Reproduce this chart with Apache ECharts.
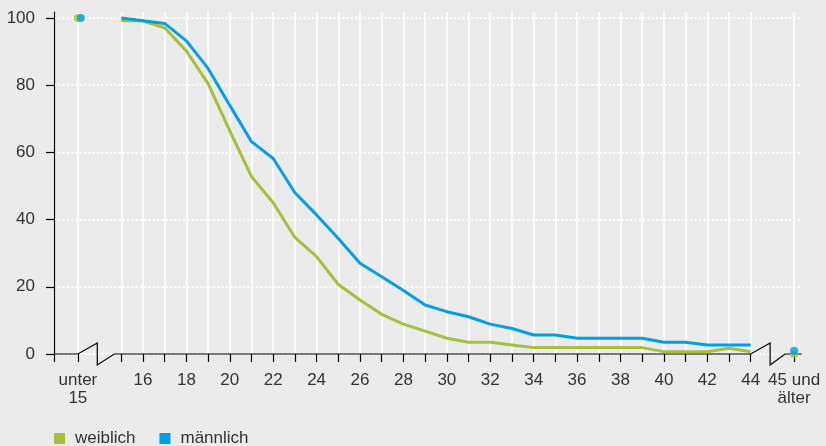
<!DOCTYPE html>
<html>
<head>
<meta charset="utf-8">
<script src="https://cdn.jsdelivr.net/npm/echarts@6/dist/echarts.min.js"></script>
<style>
html,body{margin:0;padding:0;background:#ebebeb;}
#c{width:826px;height:446px;}
</style>
</head>
<body>
<div id="c"></div>
<script>
// ---- data ----
const ages = [15,16,17,18,19,20,21,22,23,24,25,26,27,28,29,30,31,32,33,34,35,36,37,38,39,40,41,42,43,44];
const weiblich = [99.2,99.1,97.1,90.2,80.5,66.4,52.8,45.0,34.7,29.0,20.7,16.1,11.8,8.9,6.8,4.7,3.5,3.5,2.7,1.9,1.9,1.9,1.9,1.9,1.9,0.7,0.7,0.7,1.7,0.7];
const maennlich = [100,99.2,98.4,93.2,85.0,74.0,63.2,58.2,48.0,41.4,34.4,27.0,23.0,18.9,14.6,12.6,11.1,8.9,7.6,5.65,5.65,4.66,4.66,4.66,4.66,3.47,3.47,2.68,2.68,2.68];
const endPositions = [13, 46];
const endLabels = ['unter\n15', '45 und\nälter'];
const weiblichEnds = [100, 0];
const maennlichEnds = [100, 1];
const seriesNames = ['weiblich', 'männlich'];
const yTickValues = [0, 20, 40, 60, 80, 100];
const xLabelValues = [16,18,20,22,24,26,28,30,32,34,36,38,40,42,44];

// ---- chart ----
const X_MIN = 11.9, X_MAX = 46.35, Y_MAX = 101.8;
const GREEN = '#a5c03a', BLUE = '#009fe3';
const FONT = '"Liberation Sans", Arial, sans-serif';
const TXT = '#333333';

const chart = echarts.init(document.getElementById('c'), null, {renderer: 'canvas'});

const xTickValues = [X_MIN, endPositions[0]].concat(ages, [endPositions[1]]);
const xLabelAll = [endPositions[0]].concat(xLabelValues, [endPositions[1]]);

function pairs(xs, ys) { return xs.map((x, i) => [x, ys[i]]); }

const option = {
  backgroundColor: '#ebebeb',
  animation: false,
  grid: {left: 54, right: 24.3, top: 12, bottom: 92, containLabel: false},
  legend: {
    data: seriesNames,
    icon: 'rect',
    itemWidth: 11,
    itemHeight: 11,
    itemGap: 24,
    left: 54,
    top: 430,
    padding: 0,
    textStyle: {fontFamily: FONT, fontSize: 17, color: TXT, padding: [0,0,0,5]}
  },
  xAxis: {
    type: 'value',
    min: X_MIN,
    max: X_MAX,
    axisLine: {show: false},
    axisTick: {show: true, customValues: xTickValues, length: 8, lineStyle: {color: '#000', width: 1.2}},
    axisLabel: {
      customValues: xLabelAll,
      margin: 17,
      fontFamily: FONT, fontSize: 17, color: TXT, lineHeight: 18,
      formatter: function (v) {
        const i = endPositions.indexOf(v);
        return i >= 0 ? endLabels[i] : String(v);
      }
    },
    splitLine: {show: true, lineStyle: {color: '#ffffff', width: 1.6}}
  },
  yAxis: {
    type: 'value',
    min: 0,
    max: Y_MAX,
    axisLine: {show: true, lineStyle: {color: '#000', width: 1.2}},
    axisTick: {show: true, customValues: yTickValues, length: 8, lineStyle: {color: '#000', width: 1.2}},
    axisLabel: {customValues: yTickValues, margin: 19, fontFamily: FONT, fontSize: 17, color: TXT},
    splitLine: {show: true, lineStyle: {color: '#ffffff', width: 2, type: [2, 2.3]}}
  },
  series: [
    {
      type: 'custom', silent: true, clip: false, z: 3,
      data: [[X_MIN, 0]],
      renderItem: function (params, api) {
        const p0 = api.coord([X_MIN, 0]);
        const pA = api.coord([endPositions[0], 0]);
        const pB = api.coord([ages[0], 0]);
        const pC = api.coord([ages[ages.length - 1], 0]);
        const pD = api.coord([endPositions[1], 0]);
        const pE = api.coord([X_MAX, 0]);
        const h = 11, dx = 19.4;
        const pts = [p0, pA, [pA[0] + dx, pA[1] - h], [pA[0] + dx, pA[1] + h], [pB[0] - 7, pB[1]],
          pC, [pC[0] + dx, pC[1] - h], [pC[0] + dx, pC[1] + h], [pD[0] - 9, pD[1]], pE];
        return {type: 'polyline', shape: {points: pts}, style: {stroke: '#000', lineWidth: 1.2, fill: null}};
      }
    },
    {
      name: seriesNames[0], type: 'line', data: pairs(ages, weiblich),
      showSymbol: false, symbol: 'none', color: GREEN, z: 4,
      lineStyle: {width: 3, color: GREEN}
    },
    {
      name: seriesNames[1], type: 'line', data: pairs(ages, maennlich),
      showSymbol: false, symbol: 'none', color: BLUE, z: 5,
      lineStyle: {width: 3, color: BLUE}
    },
    {
      name: seriesNames[0], type: 'scatter', data: pairs(endPositions, weiblichEnds),
      symbolSize: 8, color: GREEN, itemStyle: {color: GREEN}, z: 6, clip: false
    },
    {
      name: seriesNames[1], type: 'scatter',
      data: pairs(endPositions, maennlichEnds).map((d, i) => i === 0 ? {value: d, symbolOffset: [3, 0]} : d),
      symbolSize: 8, color: BLUE, itemStyle: {color: BLUE}, z: 7, clip: false
    }
  ]
};
chart.setOption(option);
</script>
</body>
</html>
